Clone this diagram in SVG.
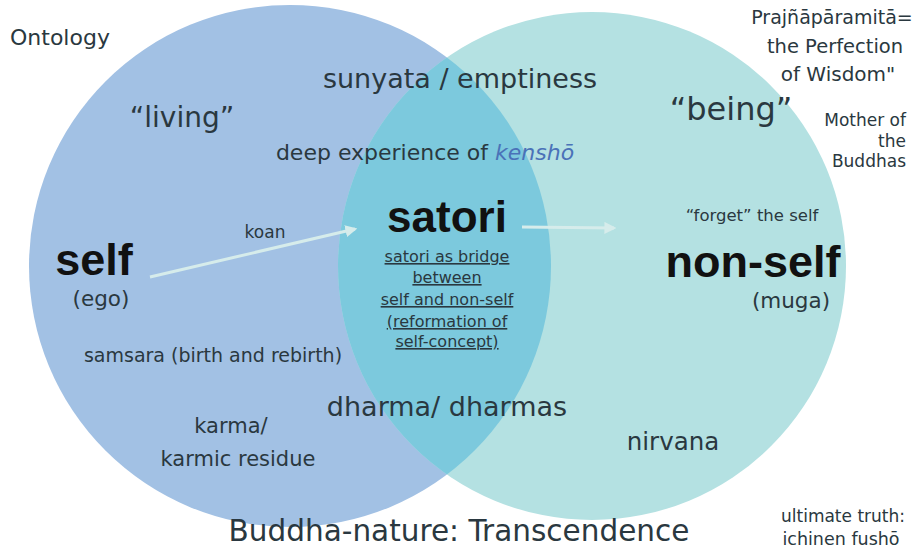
<svg xmlns="http://www.w3.org/2000/svg" width="917" height="554" viewBox="0 0 917 554">
<style>
text{font-family:"DejaVu Sans","Open Sans",sans-serif;fill:#2a3840}
.b{font-family:"Liberation Sans",Arial,sans-serif;font-weight:bold;fill:#111}
.u{text-decoration:underline;font-size:16px}
.m{text-anchor:middle}
.r{text-anchor:end}
.con{stroke:#d6eceb;stroke-width:3;fill:none}
</style>
<defs>
<marker id="ah" viewBox="0 0 10 10" refX="8" refY="5" markerWidth="4" markerHeight="4" orient="auto"><path d="M0,0 L10,5 L0,10 z" fill="#d6eceb"/></marker>
<clipPath id="cl"><circle cx="290" cy="266" r="261"/></clipPath>
</defs>
<rect width="917" height="554" fill="#fff"/>
<g id="circle-self"><circle cx="290" cy="266" r="261" fill="#a2c1e4"/></g>
<g id="circle-nonself"><circle cx="592" cy="266" r="254" fill="#b4e1e2"/></g>
<g id="overlap"><circle cx="592" cy="266" r="254" fill="#7cc9dd" clip-path="url(#cl)"/></g>
<g id="connectors">
<line class="con" x1="150" y1="277" x2="355" y2="229" marker-end="url(#ah)"/>
<line class="con" x1="522" y1="227" x2="614" y2="228" marker-end="url(#ah)"/>
</g>
<g id="labels">
<text x="10" y="45" font-size="22">Ontology</text>
<text x="182" y="127" font-size="28" class="m">“living”</text>
<text x="460" y="88" font-size="27" class="m">sunyata / emptiness</text>
<text x="425" y="160" font-size="22" class="m">deep experience of <tspan font-style="italic" fill="#4a72b8">kenshō</tspan></text>
<text x="731" y="120" font-size="32" class="m">“being”</text>
<text x="832" y="24" font-size="19" class="m">Prajñāpāramitā=</text>
<text x="835" y="53" font-size="19.5" class="m">the Perfection</text>
<text x="838" y="81" font-size="20" class="m">of Wisdom"</text>
<text x="906" y="126" font-size="17" class="r">Mother of</text>
<text x="906" y="147" font-size="17" class="r">the</text>
<text x="906" y="167" font-size="17" class="r">Buddhas</text>
<text x="265" y="238" font-size="17" class="m">koan</text>
</g>
<g id="node-self">
<text x="94" y="275" font-size="45" class="b m">self</text>
<text x="101" y="306" font-size="21.5" class="m">(ego)</text>
</g>
<g id="node-satori">
<text x="447" y="232" font-size="44" class="b m">satori</text>
<text x="447" y="262" class="u m">satori as bridge</text>
<text x="447" y="283" class="u m">between</text>
<text x="447" y="305" class="u m">self and non-self</text>
<text x="447" y="327" class="u m">(reformation of</text>
<text x="447" y="347" class="u m">self-concept)</text>
</g>
<g id="node-nonself">
<text x="752" y="221" font-size="16.5" class="m">“forget” the self</text>
<text x="753" y="277" font-size="45" class="b m">non-self</text>
<text x="791" y="308" font-size="21.5" class="m">(muga)</text>
</g>
<g id="labels-lower">
<text x="213" y="362" font-size="19" class="m">samsara (birth and rebirth)</text>
<text x="231" y="433" font-size="21" class="m">karma/</text>
<text x="238" y="466" font-size="21" class="m">karmic residue</text>
<text x="447" y="416" font-size="27" class="m">dharma/ dharmas</text>
<text x="673" y="450" font-size="24.5" class="m">nirvana</text>
<text x="459" y="541" font-size="29.5" class="m">Buddha-nature: Transcendence</text>
<text x="843" y="522" font-size="17" class="m">ultimate truth:</text>
<text x="841" y="545" font-size="17.5" class="m">ichinen fushō</text>
</g>
</svg>
